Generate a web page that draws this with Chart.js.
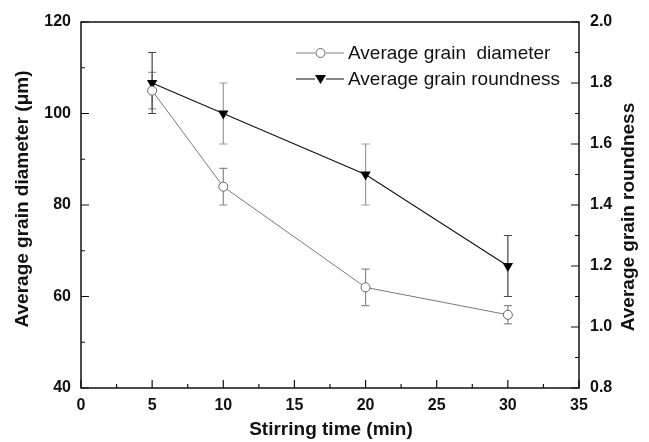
<!DOCTYPE html>
<html>
<head>
<meta charset="utf-8">
<script src="https://cdn.jsdelivr.net/npm/chart.js@4/dist/chart.umd.min.js"></script>
<style>
  html, body { margin: 0; padding: 0; background: #fff; }
  #wrap { width: 649px; height: 442px; }
</style>
</head>
<body>
<div id="wrap"><canvas id="grainChart" width="649" height="442"></canvas></div>
<script>
// datos
const stirTime = [5, 10, 20, 30];
const grainDiameter = [105, 84, 62, 56];
const grainDiameterErr = [4, 4, 4, 2];
const grainRoundness = [1.8, 1.7, 1.5, 1.2];
const grainRoundnessErr = [0.1, 0.1, 0.1, 0.1];
const seriesNames = ['Average grain  diameter', 'Average grain roundness'];
const xTitle = 'Stirring time (min)';
const yLeftTitle = 'Average grain diameter (\u03bcm)';
const yRightTitle = 'Average grain roundness';

const FONT = '"Liberation Sans", Arial, sans-serif';

function toPoints(xs, ys) {
    return xs.map((x, i) => ({ x: x, y: ys[i] }));
}

// barras de error, dibujadas con las escalas del grafico
const errorBars = {
    id: 'errorBars',
    beforeDatasetsDraw(chart, args, opts) {
        const ctx = chart.ctx;
        const xs = chart.scales.x;
        chart.data.datasets.forEach((ds, di) => {
            const ys = chart.scales[ds.yAxisID];
            const errs = ds.errors;
            const cols = opts.colors[di];
            ds.data.forEach((p, i) => {
                const px = xs.getPixelForValue(p.x);
                const hi = ys.getPixelForValue(p.y + errs[i]);
                const lo = ys.getPixelForValue(p.y - errs[i]);
                ctx.save();
                ctx.strokeStyle = cols[i];
                ctx.lineWidth = 1.2;
                ctx.beginPath();
                ctx.moveTo(px, hi); ctx.lineTo(px, lo);
                ctx.moveTo(px - 4, hi); ctx.lineTo(px + 4, hi);
                ctx.moveTo(px - 4, lo); ctx.lineTo(px + 4, lo);
                ctx.stroke();
                ctx.restore();
            });
        });
    }
};

// marco, ticks hacia dentro, titulos y leyenda
const frameAndText = {
    id: 'frameAndText',
    afterDraw(chart) {
        const ctx = chart.ctx;
        const a = chart.chartArea;
        const sx = chart.scales.x, sy = chart.scales.y, sy1 = chart.scales.y1;
        ctx.save();
        ctx.strokeStyle = '#111';
        ctx.lineWidth = 1.5;
        ctx.strokeRect(a.left, a.top, a.right - a.left, a.bottom - a.top);

        ctx.lineWidth = 1.2;
        ctx.beginPath();
        // eje x
        for (let v = sx.min; v <= sx.max + 1e-9; v += 2.5) {
            const px = sx.getPixelForValue(v);
            const len = (Math.round(v * 10) % 50 === 0) ? 8 : 4;
            ctx.moveTo(px, a.bottom); ctx.lineTo(px, a.bottom - len);
        }
        // eje izquierdo
        for (let v = sy.min; v <= sy.max + 1e-9; v += 10) {
            const py = sy.getPixelForValue(v);
            const len = (Math.round(v) % 20 === 0) ? 8 : 4;
            ctx.moveTo(a.left, py); ctx.lineTo(a.left + len, py);
        }
        // eje derecho
        for (let k = 0; k <= 12; k++) {
            const v = sy1.min + k * 0.1;
            const py = sy1.getPixelForValue(v);
            const len = (k % 2 === 0) ? 8 : 4;
            ctx.moveTo(a.right, py); ctx.lineTo(a.right - len, py);
        }
        ctx.stroke();

        // titulos de ejes
        ctx.fillStyle = '#111';
        ctx.font = 'bold 19px ' + FONT;
        ctx.textAlign = 'center';
        ctx.textBaseline = 'middle';
        ctx.fillText(xTitle, (a.left + a.right) / 2 + 1, 430);

        ctx.save();
        ctx.translate(23, (a.top + a.bottom) / 2 - 6);
        ctx.rotate(-Math.PI / 2);
        ctx.fillText(yLeftTitle, 0, 0);
        ctx.restore();

        ctx.save();
        ctx.translate(629, (a.top + a.bottom) / 2 + 12);
        ctx.rotate(-Math.PI / 2);
        ctx.fillText(yRightTitle, 0, 0);
        ctx.restore();

        // leyenda
        const rows = [
            { y: 53, color: '#808080', style: 'circle' },
            { y: 79, color: '#111', style: 'tri' }
        ];
        ctx.font = '19px ' + FONT;
        ctx.textAlign = 'left';
        rows.forEach((r, i) => {
            ctx.strokeStyle = r.color;
            ctx.lineWidth = i === 0 ? 1 : 1.2;
            ctx.beginPath();
            ctx.moveTo(296, r.y); ctx.lineTo(315, r.y);
            ctx.moveTo(326, r.y); ctx.lineTo(344, r.y);
            ctx.stroke();
            if (r.style === 'circle') {
                ctx.fillStyle = '#fff';
                ctx.strokeStyle = '#666';
                ctx.lineWidth = 1;
                ctx.beginPath();
                ctx.arc(320.5, r.y, 4.5, 0, Math.PI * 2);
                ctx.fill(); ctx.stroke();
            } else {
                ctx.fillStyle = '#000';
                ctx.beginPath();
                ctx.moveTo(315, r.y - 4); ctx.lineTo(326, r.y - 4); ctx.lineTo(320.5, r.y + 5);
                ctx.closePath(); ctx.fill();
            }
            ctx.fillStyle = '#111';
            ctx.fillText(seriesNames[i], 348, r.y + 1);
        });
        ctx.restore();
    }
};

document.addEventListener('DOMContentLoaded', function () {
    const ctx = document.getElementById('grainChart').getContext('2d');

    const data = {
        datasets: [
            {
                label: seriesNames[0],
                data: toPoints(stirTime, grainDiameter),
                errors: grainDiameterErr,
                yAxisID: 'y',
                borderColor: '#7a7a7a',
                borderWidth: 1,
                pointStyle: 'circle',
                pointRadius: 4.5,
                pointBorderWidth: 1,
                pointBorderColor: '#666',
                pointBackgroundColor: '#fff',
                tension: 0,
                fill: false,
            },
            {
                label: seriesNames[1],
                data: toPoints(stirTime, grainRoundness),
                errors: grainRoundnessErr,
                yAxisID: 'y1',
                borderColor: '#111',
                borderWidth: 1.1,
                pointStyle: 'triangle',
                pointRotation: 180,
                pointRadius: 6,
                pointBorderWidth: 0,
                pointBackgroundColor: '#000',
                pointBorderColor: '#000',
                tension: 0,
                fill: false,
            },
        ],
    };

    const tickFont = { family: FONT, size: 16, weight: 'bold' };

    const options = {
        responsive: false,
        animation: false,
        layout: { padding: { top: 22, left: 0, right: 0, bottom: 0 } },
        plugins: {
            legend: { display: false },
            tooltip: { enabled: false },
            errorBars: {
                colors: [
                    ['#9a9a9a', '#8a8a8a', '#8a8a8a', '#8a8a8a'],
                    ['#444', '#9a9a9a', '#9a9a9a', '#444']
                ]
            }
        },
        scales: {
            x: {
                type: 'linear',
                position: 'bottom',
                min: 0, max: 35,
                ticks: { stepSize: 5, color: '#111', font: tickFont, padding: 8, maxRotation: 0 },
                grid: { display: false, drawTicks: false },
                border: { display: false },
                afterFit(s) { s.height = 54; },
            },
            y: {
                type: 'linear',
                position: 'left',
                min: 40, max: 120,
                ticks: { stepSize: 20, color: '#111', font: tickFont, padding: 10 },
                grid: { display: false, drawTicks: false },
                border: { display: false },
                afterFit(s) { s.width = 81; },
            },
            y1: {
                type: 'linear',
                position: 'right',
                min: 0.8, max: 2.0,
                ticks: {
                    stepSize: 0.2, color: '#111', font: tickFont, padding: 11,
                    callback: (v) => Number(v).toFixed(1)
                },
                grid: { display: false, drawTicks: false },
                border: { display: false },
                afterFit(s) { s.width = 70; },
            },
        },
    };

    new Chart(ctx, {
        type: 'line',
        data: data,
        options: options,
        plugins: [errorBars, frameAndText],
    });
});
</script>
</body>
</html>
